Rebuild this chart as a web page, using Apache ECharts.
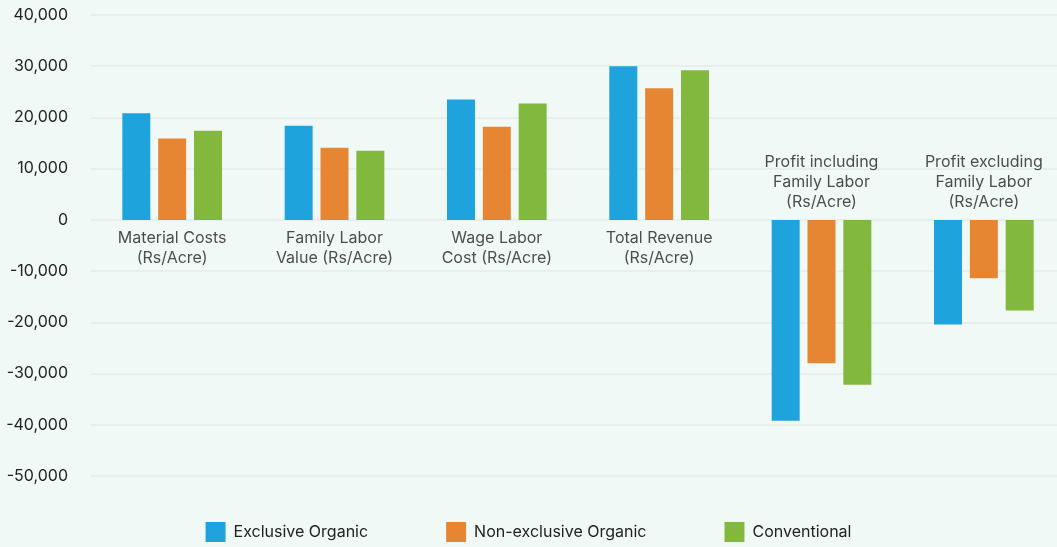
<!DOCTYPE html>
<html>
<head>
<meta charset="utf-8">
<script src="https://cdn.jsdelivr.net/npm/echarts@6/dist/echarts.min.js"></script>
<style>
  html, body { margin: 0; padding: 0; background: #f1f9f7; }
  #chart { width: 1057px; height: 547px; }
</style>
</head>
<body>
<div id="chart"></div>
<script>
const categories = [
  'Material Costs\n(Rs/Acre)',
  'Family Labor\nValue (Rs/Acre)',
  'Wage Labor\nCost (Rs/Acre)',
  'Total Revenue\n(Rs/Acre)',
  'Profit including\nFamily Labor\n(Rs/Acre)',
  'Profit excluding\nFamily Labor\n(Rs/Acre)'
]
const seriesNames = ['Exclusive Organic', 'Non-exclusive Organic', 'Conventional']
const exclusiveOrganic = [20800, 18400, 23500, 30000, -39200, -20400]
const nonExclusiveOrganic = [15900, 14100, 18200, 25700, -28000, -11400]
const conventional = [17400, 13500, 22700, 29200, -32200, -17700]
const colors = ['#1ea3dc', '#e68632', '#82b83e']

const chart = echarts.init(document.getElementById('chart'))

// category names hang off the zero line: below it for gains, above it for losses
const isNegative = categories.map((c, i) => exclusiveOrganic[i] < 0)
const labelPoints = categories.map((c, i) => ({
  value: [i, 0],
  label: { position: isNegative[i] ? 'top' : 'bottom' }
}))

const gridLine = { color: '#e5eaea', width: 1.5 }

const option = {
  backgroundColor: '#f1f9f7',
  color: colors,
  textStyle: { fontFamily: 'Inter' },
  grid: { left: 91, right: -8, top: 15, bottom: 71, outerBoundsMode: 'none' },
  legend: {
    left: 'center',
    top: 522,
    padding: 0,
    itemWidth: 20,
    itemHeight: 20,
    itemGap: 78,
    icon: 'rect',
    textStyle: { fontFamily: 'Inter', fontSize: 16, color: '#222', padding: [0, 0, 0, 3] },
    data: seriesNames
  },
  xAxis: {
    type: 'category',
    data: categories,
    axisLine: { show: false },
    axisTick: { show: false },
    axisLabel: { show: false }
  },
  yAxis: {
    type: 'value',
    min: -50000,
    max: 40000,
    interval: 10000,
    axisLine: { show: false },
    axisTick: { show: false },
    splitLine: { lineStyle: gridLine },
    axisLabel: {
      fontFamily: 'Inter',
      fontSize: 16,
      color: '#222',
      margin: 23,
      formatter: v => v.toLocaleString('en-US')
    }
  },
  series: [
    { name: seriesNames[0], type: 'bar', data: exclusiveOrganic, barWidth: 28, barGap: '28%' },
    { name: seriesNames[1], type: 'bar', data: nonExclusiveOrganic, barWidth: 28, barGap: '28%' },
    { name: seriesNames[2], type: 'bar', data: conventional, barWidth: 28, barGap: '28%' },
    {
      name: 'categoryLabels',
      type: 'scatter',
      symbolSize: 0,
      silent: true,
      data: labelPoints,
      label: {
        show: true,
        distance: 8,
        fontFamily: 'Inter',
        fontSize: 16,
        lineHeight: 20,
        color: '#222',
        align: 'center',
        formatter: p => categories[p.dataIndex]
      }
    }
  ]
}

chart.setOption(option)
</script>
</body>
</html>
